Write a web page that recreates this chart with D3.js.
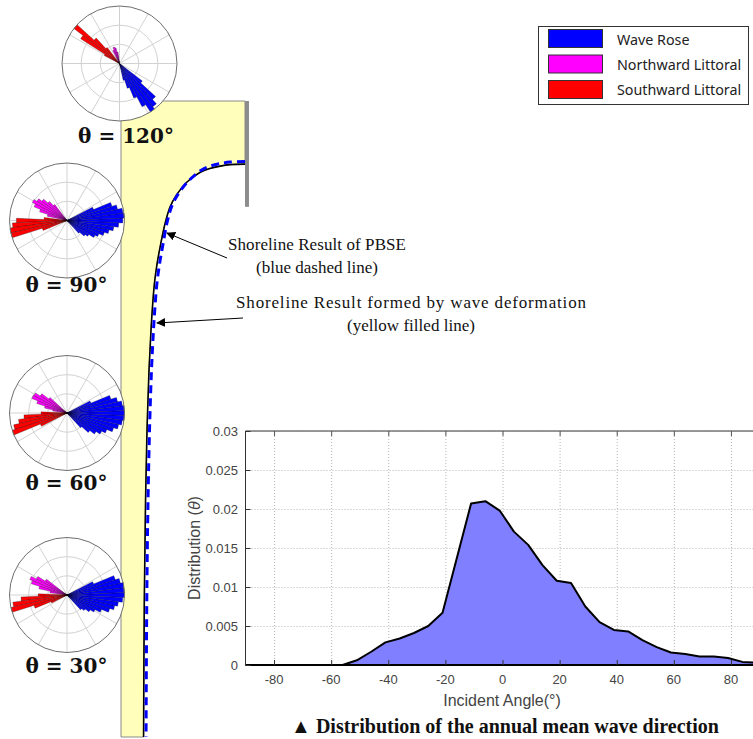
<!DOCTYPE html>
<html>
<head>
<meta charset="utf-8">
<script src="https://cdn.jsdelivr.net/npm/d3@7"></script>
<style>
  body { margin: 0; background: #fff; }
  svg { display: block; }
</style>
</head>
<body>
<svg id="fig" width="753" height="739"></svg>
<script>
// ---- distribution of annual mean wave direction ----
var incidentAngle = [-90, -56, -51, -46, -41, -36, -31, -26, -21, -11, -6, -1, 4, 9, 14, 19, 24, 29, 34, 39, 44, 49, 54, 59, 64, 69, 74, 79, 84, 89];
var distribution  = [0, 0, 0.0006, 0.0017, 0.0029, 0.0034, 0.0041, 0.005, 0.0067, 0.0207, 0.021, 0.0198, 0.0171, 0.0154, 0.0128, 0.0108, 0.0105, 0.0075, 0.0055, 0.0045, 0.0043, 0.0032, 0.0023, 0.0016, 0.0014, 0.0011, 0.0011, 0.0009, 0.0004, 0.0003];
var xTicks = [-80, -60, -40, -20, 0, 20, 40, 60, 80];
var yTicks = [0, 0.005, 0.01, 0.015, 0.02, 0.025, 0.03];
var yTickLabels = ["0", "0.005", "0.01", "0.015", "0.02", "0.025", "0.03"];

// ---- wave roses: [direction deg (ccw from east), relative length] ----
var roseTheta = [120, 90, 60, 30];
var waveRose120 = [[-75, 0.3], [-70, 0.45], [-65, 0.65], [-60, 0.85], [-55, 1.0], [-50, 0.95], [-45, 0.85], [-40, 0.5]];
var north120 = [[100, 0.2], [105, 0.28], [110, 0.3], [115, 0.25]];
var south120 = [[130, 0.35], [135, 0.6], [140, 1.0], [145, 0.8], [150, 0.3]];

var waveRose90 = [[-45, 0.3], [-40, 0.4], [-35, 0.45], [-30, 0.55], [-25, 0.6], [-20, 0.68], [-15, 0.75], [-10, 0.82], [-5, 0.9], [0, 0.97], [5, 1.0], [10, 0.98], [15, 0.9], [20, 0.82], [25, 0.5]];
var north90 = [[130, 0.35], [135, 0.45], [140, 0.55], [145, 0.62], [150, 0.68], [155, 0.62], [160, 0.5], [165, 0.35]];
var south90 = [[175, 0.4], [180, 0.88], [185, 0.95], [190, 1.0], [195, 1.0], [200, 0.45]];

var waveRose60 = [[-45, 0.35], [-40, 0.5], [-35, 0.6], [-30, 0.68], [-25, 0.75], [-20, 0.85], [-15, 0.92], [-10, 0.97], [-5, 1.0], [0, 1.0], [5, 1.0], [10, 0.97], [15, 0.9], [20, 0.8], [25, 0.45]];
var north60 = [[140, 0.4], [145, 0.55], [150, 0.65], [155, 0.66], [160, 0.55], [165, 0.4], [170, 0.25]];
var south60 = [[180, 0.45], [185, 0.75], [190, 0.85], [195, 0.95], [200, 1.0], [205, 0.5]];

var waveRose30 = [[-45, 0.35], [-40, 0.4], [-35, 0.48], [-30, 0.55], [-25, 0.65], [-20, 0.78], [-15, 0.85], [-10, 0.9], [-5, 0.97], [0, 1.0], [5, 1.0], [10, 1.0], [15, 0.95], [20, 0.88], [25, 0.5]];
var north30 = [[145, 0.45], [150, 0.6], [155, 0.7], [160, 0.65], [165, 0.5], [170, 0.3]];
var south30 = [[180, 0.5], [185, 0.8], [190, 0.95], [195, 1.0], [200, 0.6], [205, 0.3]];

// ---- plan view shoreline (metres, x offshore, y alongshore) ----
var shoreX = [250, 220, 200, 179, 159, 132, 112, 99, 89, 79, 73, 67.5, 63.5, 60.5, 56.5, 52.5, 49.5, 47, 45.5];
var shoreY = [127, 128, 131, 136, 144, 164, 189, 213, 246, 293, 326, 366, 414, 461, 541, 662, 803, 1004, 1280];
var pbseX = [250, 220, 200, 180, 161, 136, 116, 103, 93, 84, 78, 72.5, 68.5, 65.5, 61.5, 57.5, 54.5, 52, 50.5];
var pbseY = [122, 123, 126, 131, 140, 161, 186, 210, 244, 292, 326, 366, 414, 461, 541, 662, 803, 1004, 1280];
var breakwaterLength = 213;

var legendLabels = ["Wave Rose", "Northward Littoral", "Southward Littoral"];
var legendColors = ["#0000ff", "#ff00ff", "#ff0000"];

var svg = d3.select("#fig");

// ===== plan view =====
var px = d3.scaleLinear().domain([0, 250]).range([121, 245]);
var py = d3.scaleLinear().domain([0, 1280]).range([101, 737]);

var shore = shoreX.map(function(d, i){ return [d, shoreY[i]]; });
var pbse = pbseX.map(function(d, i){ return [d, pbseY[i]]; });

var planLine = d3.line()
    .x(function(d){ return px(d[0]); })
    .y(function(d){ return py(d[1]); })
    .curve(d3.curveCatmullRom.alpha(0.5));

// yellow land
svg.append("path")
    .attr("d", planLine(shore) +
        "L" + px(0) + "," + py(1280) +
        "L" + px(0) + "," + py(0) +
        "L" + px(250) + "," + py(0) + "Z")
    .attr("fill", "#ffffbb")
    .attr("stroke", "#8a8a8a")
    .attr("stroke-width", 1);
svg.append("path")
    .attr("d", planLine(shore))
    .attr("fill", "none")
    .attr("stroke", "#000")
    .attr("stroke-width", 1.6);
svg.append("path")
    .attr("d", planLine(pbse))
    .attr("fill", "none")
    .attr("stroke", "#0000ff")
    .attr("stroke-width", 3)
    .attr("stroke-dasharray", "8,5");

// breakwater
svg.append("rect")
    .attr("x", px(250))
    .attr("y", py(0))
    .attr("width", px(258) - px(250))
    .attr("height", py(breakwaterLength) - py(0))
    .attr("fill", "#8c8c8c");

// annotations
var defs = svg.append("defs");
defs.append("marker")
    .attr("id", "head")
    .attr("viewBox", "0 0 10 10")
    .attr("refX", 9).attr("refY", 5)
    .attr("markerWidth", 9).attr("markerHeight", 9)
    .attr("markerUnits", "userSpaceOnUse")
    .attr("orient", "auto")
  .append("path")
    .attr("d", "M0,0L10,5L0,10Z")
    .attr("fill", "#000");

var notes = [
    {tail: [227, 258], tip: [167, 233], lines: ["Shoreline Result of PBSE", "(blue dashed line)"], widths: [178, 122], tx: 317, ty: 250},
    {tail: [243, 318], tip: [157, 323], lines: ["Shoreline Result formed by wave deformation", "(yellow filled line)"], widths: [350, 128], tx: 411, ty: 308}
];
notes.forEach(function(n){
    svg.append("line")
        .attr("x1", n.tail[0]).attr("y1", n.tail[1])
        .attr("x2", n.tip[0]).attr("y2", n.tip[1])
        .attr("stroke", "#000").attr("stroke-width", 1)
        .attr("marker-end", "url(#head)");
    n.lines.forEach(function(t, i){
        svg.append("text")
            .attr("x", n.tx).attr("y", n.ty + i * 23)
            .attr("text-anchor", "middle")
            .attr("font-family", "'Liberation Serif', 'Times New Roman', serif")
            .attr("font-size", 17)
            .attr("textLength", n.widths[i])
            .attr("lengthAdjust", "spacing")
            .attr("fill", "#111")
            .text(t);
    });
});

// ===== wave roses =====
var roseLayout = [
    {cx: 119.5, cy: 63.5, lx: 126, ly: 143},
    {cx: 67, cy: 220.5, lx: 66.5, ly: 292},
    {cx: 67, cy: 413, lx: 66.5, ly: 490},
    {cx: 67, cy: 595, lx: 66.5, ly: 673}
];
var roseSeries = [
    [waveRose120, north120, south120],
    [waveRose90, north90, south90],
    [waveRose60, north60, south60],
    [waveRose30, north30, south30]
];
var roseR = 57.5;
var binWidth = 5;

function drawRose(i) {
    var L = roseLayout[i];
    var rs = d3.scaleLinear().domain([0, 1]).range([0, roseR]);
    var g = svg.append("g").attr("transform", "translate(" + L.cx + "," + L.cy + ")");
    g.append("circle").attr("r", rs(1)).attr("fill", "#fff");
    [1/3, 2/3].forEach(function(f){
        g.append("circle").attr("r", rs(f)).attr("fill", "none")
            .attr("stroke", "#d2d2d2").attr("stroke-width", 1);
    });
    d3.range(0, 360, 30).forEach(function(a){
        var t = a * Math.PI / 180;
        g.append("line")
            .attr("x1", 0).attr("y1", 0)
            .attr("x2", rs(1) * Math.cos(t)).attr("y2", -rs(1) * Math.sin(t))
            .attr("stroke", "#d2d2d2").attr("stroke-width", 1);
    });
    var arc = d3.arc().innerRadius(0);
    roseSeries[i].forEach(function(series, k){
        g.selectAll(null).data(series).enter().append("path")
            .attr("d", function(d){
                return arc({
                    outerRadius: rs(d[1]),
                    startAngle: (90 - d[0] - binWidth / 2) * Math.PI / 180,
                    endAngle: (90 - d[0] + binWidth / 2) * Math.PI / 180
                });
            })
            .attr("fill", legendColors[k])
            .attr("stroke", "#000")
            .attr("stroke-opacity", 0.55)
            .attr("stroke-width", 0.5);
    });
    g.append("circle").attr("r", rs(1)).attr("fill", "none")
        .attr("stroke", "#6e6e6e").attr("stroke-width", 1);
    svg.append("text")
        .attr("x", L.lx).attr("y", L.ly)
        .attr("text-anchor", "middle")
        .attr("font-family", "'DejaVu Serif', serif")
        .attr("font-weight", "bold")
        .attr("font-size", 20)
        .attr("fill", "#111")
        .text("\u03b8 = " + roseTheta[i] + "\u00b0");
}
roseTheta.forEach(function(t, i){ drawRose(i); });

// ===== legend =====
var leg = svg.append("g");
leg.append("rect").attr("x", 538.5).attr("y", 26.5).attr("width", 210).attr("height", 78)
    .attr("fill", "#fff").attr("stroke", "#333").attr("stroke-width", 1);
legendLabels.forEach(function(lab, i){
    leg.append("rect")
        .attr("x", 548.5).attr("y", 29.5 + i * 25.5)
        .attr("width", 54).attr("height", 18)
        .attr("fill", legendColors[i]).attr("stroke", "#333");
    leg.append("text")
        .attr("x", 617).attr("y", 45 + i * 25)
        .attr("font-family", "'Noto Sans', sans-serif")
        .attr("font-size", 14.3)
        .attr("fill", "#222")
        .text(lab);
});

// ===== distribution chart =====
var x = d3.scaleLinear().domain([-90, 90]).range([245.5, 759.5]);
var y = d3.scaleLinear().domain([0, 0.03]).range([665, 431]);
var chart = svg.append("g");

chart.append("rect").attr("x", x(-90)).attr("y", y(0.03))
    .attr("width", x(90) - x(-90)).attr("height", y(0) - y(0.03)).attr("fill", "#fff");

chart.selectAll(".gx").data(xTicks).enter().append("line")
    .attr("x1", function(d){ return x(d) + 0.5; }).attr("x2", function(d){ return x(d) + 0.5; })
    .attr("y1", y(0)).attr("y2", y(0.03))
    .attr("stroke", "#b4b4b4").attr("stroke-dasharray", "1,2");
chart.selectAll(".gy").data(yTicks).enter().append("line")
    .attr("x1", x(-90)).attr("x2", x(90))
    .attr("y1", function(d){ return y(d) + 0.5; }).attr("y2", function(d){ return y(d) + 0.5; })
    .attr("stroke", "#b4b4b4").attr("stroke-dasharray", "1,2");

var pts = incidentAngle.map(function(a, i){ return [a, distribution[i]]; });
chart.append("path")
    .attr("d", d3.area().x(function(d){ return x(d[0]); }).y0(y(0)).y1(function(d){ return y(d[1]); })(pts))
    .attr("fill", "#7f7fff");
chart.append("path")
    .attr("d", d3.line().x(function(d){ return x(d[0]); }).y(function(d){ return y(d[1]); })(pts))
    .attr("fill", "none").attr("stroke", "#000").attr("stroke-width", 2).attr("stroke-linejoin", "round");

// frame
chart.append("line").attr("x1", x(-90)).attr("x2", x(90)).attr("y1", y(0.03)).attr("y2", y(0.03))
    .attr("stroke", "#777").attr("stroke-width", 1.5);
chart.append("line").attr("x1", x(-90)).attr("x2", x(90)).attr("y1", y(0)).attr("y2", y(0))
    .attr("stroke", "#000").attr("stroke-width", 2);
chart.append("line").attr("x1", x(-90)).attr("x2", x(-90)).attr("y1", y(0.03)).attr("y2", y(0))
    .attr("stroke", "#333").attr("stroke-width", 1);

// ticks (inward)
xTicks.forEach(function(d){
    chart.append("line").attr("x1", x(d) + 0.5).attr("x2", x(d) + 0.5).attr("y1", y(0)).attr("y2", y(0) - 5)
        .attr("stroke", "#333");
    chart.append("line").attr("x1", x(d) + 0.5).attr("x2", x(d) + 0.5).attr("y1", y(0.03)).attr("y2", y(0.03) + 5)
        .attr("stroke", "#555");
});
yTicks.forEach(function(d){
    chart.append("line").attr("x1", x(-90)).attr("x2", x(-90) + 5).attr("y1", y(d) + 0.5).attr("y2", y(d) + 0.5)
        .attr("stroke", "#333");
});

var tickFont = "'Liberation Sans', Arial, sans-serif";
chart.selectAll(".xl").data(xTicks).enter().append("text")
    .attr("x", function(d){ return x(d); }).attr("y", 684)
    .attr("text-anchor", "middle")
    .attr("font-family", tickFont).attr("font-size", 13).attr("fill", "#444")
    .text(function(d){ return d; });
chart.selectAll(".yl").data(yTicks).enter().append("text")
    .attr("x", 238).attr("y", function(d){ return y(d) + 4.5; })
    .attr("text-anchor", "end")
    .attr("font-family", tickFont).attr("font-size", 13).attr("fill", "#444")
    .text(function(d, i){ return yTickLabels[i]; });

chart.append("text")
    .attr("x", 502).attr("y", 706)
    .attr("text-anchor", "middle")
    .attr("font-family", tickFont).attr("font-size", 16).attr("fill", "#444")
    .text("Incident Angle(\u00b0)");

var yl = chart.append("text")
    .attr("transform", "translate(200," + ((y(0) + y(0.03)) / 2) + ") rotate(-90)")
    .attr("text-anchor", "middle")
    .attr("font-family", tickFont).attr("font-size", 16).attr("fill", "#444");
yl.append("tspan").text("Distribution (");
yl.append("tspan").attr("font-style", "italic").text("\u03b8");
yl.append("tspan").text(")");

svg.append("text")
    .attr("x", 505).attr("y", 733)
    .attr("text-anchor", "middle")
    .attr("font-family", "'Liberation Serif', 'Times New Roman', serif")
    .attr("font-weight", "bold")
    .attr("font-size", 20)
    .attr("fill", "#111")
    .text("\u25b2 Distribution of the annual mean wave direction");
</script>
</body>
</html>
